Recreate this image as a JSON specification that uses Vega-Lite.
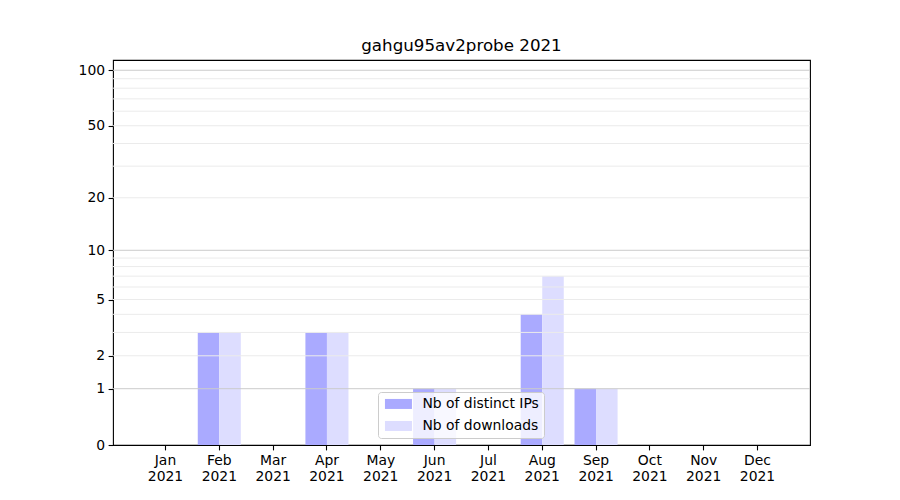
{
  "$schema": "https://vega.github.io/schema/vega-lite/v6.json",
  "width": 697,
  "height": 385,
  "autosize": "none",
  "padding": {"left": 113, "top": 60, "right": 90, "bottom": 55},
  "background": "white",
  "title": {
    "text": "gahgu95av2probe 2021",
    "font": "DejaVu Sans",
    "fontSize": 16.7,
    "fontWeight": "normal",
    "color": "black",
    "baseline": "alphabetic",
    "offset": -7.5
  },
  "config": {
    "view": {"stroke": "black", "strokeWidth": 1.1},
    "axis": {
      "labelFont": "DejaVu Sans",
      "labelFontSize": 13.9,
      "labelColor": "black",
      "tickColor": "black",
      "tickSize": 4.9,
      "tickWidth": 1.1,
      "labelPadding": 3.5,
      "domain": false,
      "grid": false,
      "title": null
    },
    "legend": {
      "labelFont": "DejaVu Sans",
      "labelFontSize": 13.9,
      "labelColor": "black"
    }
  },
  "layer": [
    {
      "data": {
        "values": [
          {"month": "Jan", "series": "Nb of distinct IPs", "value": 0},
          {"month": "Jan", "series": "Nb of downloads", "value": 0},
          {"month": "Feb", "series": "Nb of distinct IPs", "value": 3},
          {"month": "Feb", "series": "Nb of downloads", "value": 3},
          {"month": "Mar", "series": "Nb of distinct IPs", "value": 0},
          {"month": "Mar", "series": "Nb of downloads", "value": 0},
          {"month": "Apr", "series": "Nb of distinct IPs", "value": 3},
          {"month": "Apr", "series": "Nb of downloads", "value": 3},
          {"month": "May", "series": "Nb of distinct IPs", "value": 0},
          {"month": "May", "series": "Nb of downloads", "value": 0},
          {"month": "Jun", "series": "Nb of distinct IPs", "value": 1},
          {"month": "Jun", "series": "Nb of downloads", "value": 1},
          {"month": "Jul", "series": "Nb of distinct IPs", "value": 0},
          {"month": "Jul", "series": "Nb of downloads", "value": 0},
          {"month": "Aug", "series": "Nb of distinct IPs", "value": 4},
          {"month": "Aug", "series": "Nb of downloads", "value": 7},
          {"month": "Sep", "series": "Nb of distinct IPs", "value": 1},
          {"month": "Sep", "series": "Nb of downloads", "value": 1},
          {"month": "Oct", "series": "Nb of distinct IPs", "value": 0},
          {"month": "Oct", "series": "Nb of downloads", "value": 0},
          {"month": "Nov", "series": "Nb of distinct IPs", "value": 0},
          {"month": "Nov", "series": "Nb of downloads", "value": 0},
          {"month": "Dec", "series": "Nb of distinct IPs", "value": 0},
          {"month": "Dec", "series": "Nb of downloads", "value": 0}
        ]
      },
      "mark": {"type": "bar", "strokeWidth": 0},
      "encoding": {
        "x": {
          "field": "month",
          "type": "nominal",
          "sort": ["Jan","Feb","Mar","Apr","May","Jun","Jul","Aug","Sep","Oct","Nov","Dec"],
          "scale": {"paddingInner": 0.2, "paddingOuter": 0.575},
          "axis": {
            "labelAngle": 0,
            "labelExpr": "[datum.label, '2021']",
            "labelLineHeight": 16,
            "labelBaseline": "top"
          }
        },
        "xOffset": {
          "field": "series",
          "type": "nominal",
          "sort": ["Nb of distinct IPs", "Nb of downloads"],
          "scale": {"paddingInner": 0, "paddingOuter": 0}
        },
        "y": {
          "field": "value",
          "type": "quantitative",
          "scale": {"type": "symlog", "constant": 1, "domain": [0, 113.6], "nice": false},
          "axis": {"values": [0, 1, 2, 5, 10, 20, 50, 100]}
        },
        "color": {
          "field": "series",
          "type": "nominal",
          "scale": {
            "domain": ["Nb of distinct IPs", "Nb of downloads"],
            "range": ["#aaaaff", "#ddddff"]
          },
          "legend": {
            "title": null,
            "orient": "none",
            "legendX": 265,
            "legendY": 332,
            "padding": 5,
            "rowPadding": 7,
            "fillColor": "rgba(255,255,255,0.8)",
            "strokeColor": "#cccccc",
            "cornerRadius": 3,
            "symbolType": "M-2.7,-1L2.7,-1L2.7,1L-2.7,1Z",
            "symbolSize": 100,
            "symbolStrokeWidth": 0,
            "symbolOpacity": 1,
            "symbolOffset": 8.5,
            "labelOffset": 17
          }
        }
      }
    },
    {
      "data": {"values": [{"v": 2}, {"v": 3}, {"v": 4}, {"v": 5}, {"v": 6}, {"v": 7}, {"v": 8}, {"v": 9}, {"v": 20}, {"v": 30}, {"v": 40}, {"v": 50}, {"v": 60}, {"v": 70}, {"v": 80}, {"v": 90}]},
      "mark": {"type": "rule", "color": "#ebebeb", "strokeWidth": 1},
      "encoding": {"y": {"field": "v", "type": "quantitative"}}
    },
    {
      "data": {"values": [{"v": 1}, {"v": 10}, {"v": 100}]},
      "mark": {"type": "rule", "color": "#cbcbcb", "strokeWidth": 1},
      "encoding": {"y": {"field": "v", "type": "quantitative"}}
    }
  ]
}
